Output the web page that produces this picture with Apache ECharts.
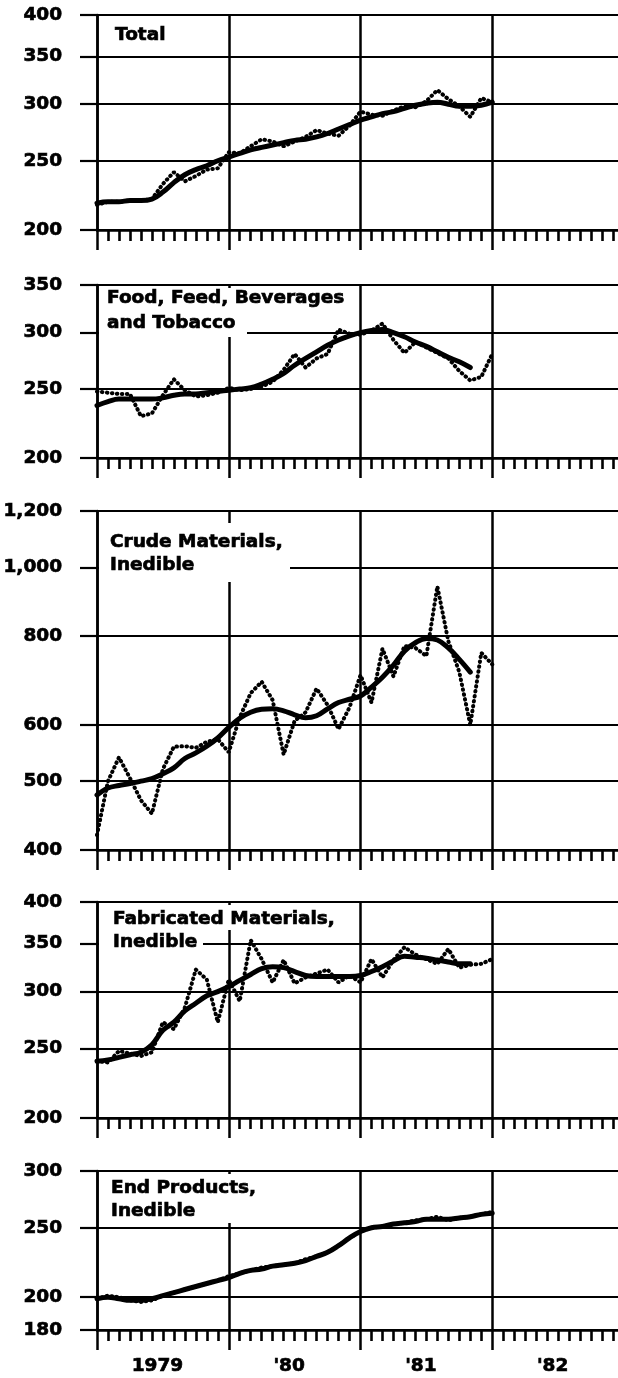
<!DOCTYPE html>
<html>
<head>
    <meta charset="utf-8" />
    <script src="https://cdn.jsdelivr.net/npm/echarts@6/dist/echarts.min.js"></script>
    <style>
        html, body { margin: 0; padding: 0; background: #fff; }
        #chart { width: 618px; height: 1378px; }
    </style>
</head>
<body>
<div id="chart"></div>
<script type="text/javascript">
    // values are monthly, index 0 = Jan 1979
    var yearLabels = ['1979', "'80", "'81", "'82"];
    var yearLabelPos = [5.5, 17.5, 29.5, 41.5];

    var titles = [
        ['Total'],
        ['Food, Feed, Beverages', 'and Tobacco'],
        ['Crude Materials,', 'Inedible'],
        ['Fabricated Materials,', 'Inedible'],
        ['End Products,', 'Inedible']
    ];

    var totalTicks = [200, 250, 300, 350, 400];
    var foodTicks = [200, 250, 300, 350];
    var crudeTicks = [400, 500, 600, 800, 1000, 1200];
    var fabTicks = [200, 250, 300, 350, 400];
    var endTicks = [180, 200, 250, 300];

    var totalMonthly = [217, 219, 219, 220, 220, 221, 232, 241, 234, 238, 243, 244, 257, 256, 262, 268, 266, 262, 266, 270, 276, 273, 271, 280, 293, 290, 289, 294, 298, 297, 303, 314, 305, 298, 288, 306, 302];
    var totalTrend = [218, 219, 219, 220, 220, 221, 226, 233, 239, 243, 246, 250, 253, 256, 259, 261, 263, 265, 267, 268, 270, 273, 277, 281, 285, 288, 291, 293, 296, 299, 301, 302, 300, 298, 298, 299, 302];

    var foodMonthly = [248, 247, 246, 246, 229, 231, 245, 258, 249, 244, 245, 247, 251, 249, 250, 252, 256, 266, 280, 268, 276, 280, 303, 299, 298, 302, 309, 293, 281, 291, 286, 281, 276, 265, 257, 260, 280];
    var foodTrend = [237, 240, 242, 242, 242, 242, 243, 245, 246, 246, 247, 248, 249, 250, 251, 254, 258, 263, 270, 276, 282, 288, 293, 297, 300, 302, 303, 300, 296, 291, 287, 282, 277, 273, 268];

    var crudeMonthly = [420, 500, 540, 505, 470, 450, 520, 559, 560, 557, 568, 573, 549, 615, 665, 690, 650, 545, 608, 625, 675, 640, 592, 635, 705, 645, 768, 702, 775, 770, 750, 940, 787, 712, 600, 758, 730];
    var crudeTrend = [478, 489, 493, 496, 500, 504, 512, 522, 538, 548, 560, 575, 595, 613, 625, 631, 632, 628, 620, 614, 618, 632, 645, 652, 659, 678, 700, 728, 762, 783, 794, 790, 770, 742, 712];

    var fabMonthly = [240, 239, 248, 246, 244, 247, 272, 266, 285, 322, 312, 272, 312, 291, 354, 333, 309, 332, 308, 314, 318, 322, 309, 316, 309, 333, 314, 332, 346, 338, 333, 328, 344, 324, 327, 328, 333];
    var fabTrend = [240, 241, 243, 245, 247, 253, 265, 272, 282, 289, 296, 300, 305, 311, 317, 323, 325, 324, 320, 316, 315, 315, 315, 315, 316, 320, 325, 331, 336, 335, 334, 332, 330, 328, 328];

    var endMonthly = [199, 201, 200, 198, 197, 198, 201, 203, 205, 207, 209, 211, 214, 216, 218, 220, 221, 222, 223, 226, 228, 231, 236, 242, 247, 250, 251, 253, 254, 256, 257, 259, 256, 258, 259, 261, 263];
    var endTrend = [199, 200, 199, 198, 198, 199, 201, 203, 205, 207, 209, 211, 213, 216, 218, 219, 221, 222, 223, 225, 228, 231, 236, 242, 247, 250, 251, 253, 254, 255, 257, 257, 257, 258, 259, 261, 262];

    var FONT = '"DejaVu Sans", "Liberation Sans", sans-serif';

    // layout of the five panels (pixels)
    var panels = [
        { top: 15, height: 215, ticks: totalTicks, monthly: totalMonthly, trend: totalTrend,
          text: [[115, 35]], boxes: [] },
        { top: 285, height: 173, ticks: foodTicks, monthly: foodMonthly, trend: foodTrend,
          text: [[107, 298], [107, 323]], boxes: [[99, 288, 251, 24], [99, 312, 148, 25]] },
        { top: 511, height: 339, ticks: crudeTicks, monthly: crudeMonthly, trend: crudeTrend,
          text: [[110, 542], [110, 565]], boxes: [[99, 523, 191, 59]] },
        { top: 902, height: 216, ticks: fabTicks, monthly: fabMonthly, trend: fabTrend,
          text: [[113, 919], [113, 942]], boxes: [[99, 905, 234, 25], [99, 930, 104, 23]] },
        { top: 1171, height: 159, ticks: endTicks, monthly: endMonthly, trend: endTrend,
          text: [[111, 1188], [111, 1211]], boxes: [[99, 1174, 164, 49]] }
    ];

    function pairs(vals) {
        return vals.map(function (v, i) { return [i, v]; });
    }

    function fmtNum(v) {
        v = Math.round(v);
        if (v >= 1000) {
            var r = String(v % 1000);
            while (r.length < 3) r = '0' + r;
            return Math.floor(v / 1000) + ',' + r;
        }
        return String(v);
    }

    var black = '#000';
    var labelFont = { fontSize: 18.5, fontWeight: 'bold', color: black, fontFamily: FONT,
                      textBorderColor: black, textBorderWidth: 0.7 };
    var grids = [], xAxes = [], yAxes = [], series = [], graphics = [];

    panels.forEach(function (p, i) {
        grids.push({ left: 97, right: -6, top: p.top, height: p.height,
                     containLabel: false, outerBoundsMode: 'none' });
        xAxes.push({
            type: 'value', gridIndex: i, min: 0, max: 48, interval: 12,
            axisLine: { show: true, onZero: false, lineStyle: { color: black, width: 2.5 } },
            axisTick: { show: true, inside: false, length: 20, lineStyle: { color: black, width: 2.5 } },
            minorTick: { show: true, splitNumber: 12, length: 11, lineStyle: { color: black, width: 2.6 } },
            splitLine: { show: true, lineStyle: { color: black, width: 2.5 } },
            axisLabel: echarts.util.extend({
                show: i === panels.length - 1,
                customValues: yearLabelPos,
                formatter: function (v) { return yearLabels[Math.floor(v / 12)]; },
                margin: 27
            }, labelFont)
        });
        yAxes.push({
            type: 'log', gridIndex: i,
            min: p.ticks[0], max: p.ticks[p.ticks.length - 1],
            axisLine: { show: true, lineStyle: { color: black, width: 2.5 } },
            axisTick: { show: true, inside: false, length: 17, customValues: p.ticks,
                        lineStyle: { color: black, width: 2.2 } },
            axisLabel: echarts.util.extend({ customValues: p.ticks, formatter: fmtNum, margin: 35 }, labelFont),
            splitLine: { show: true, lineStyle: { color: black, width: 2.2 } },
            minorTick: { show: false },
            minorSplitLine: { show: false }
        });
        series.push({
            type: 'line', xAxisIndex: i, yAxisIndex: i,
            data: pairs(p.monthly), symbol: 'none', z: 3,
            lineStyle: { color: black, width: 4, type: [0.5, 4.5], cap: 'round' }
        });
        series.push({
            type: 'line', xAxisIndex: i, yAxisIndex: i,
            data: pairs(p.trend), symbol: 'none', smooth: 0.4, z: 4,
            lineStyle: { color: black, width: 5, cap: 'round', join: 'round' }
        });
        p.boxes.forEach(function (b) {
            graphics.push({ type: 'rect', z: 1, silent: true,
                            shape: { x: b[0], y: b[1], width: b[2], height: b[3] },
                            style: { fill: '#fff' } });
        });
        titles[i].forEach(function (line, k) {
            graphics.push({ type: 'text', z: 5, silent: true,
                            x: p.text[k][0], y: p.text[k][1],
                            style: { text: line, fill: black, font: 'bold 18.5px ' + FONT,
                                     stroke: black, lineWidth: 0.7,
                                     textAlign: 'left', textVerticalAlign: 'middle' } });
        });
    });

    var myChart = echarts.init(document.getElementById('chart'));
    myChart.setOption({
        animation: false,
        backgroundColor: '#fff',
        grid: grids,
        xAxis: xAxes,
        yAxis: yAxes,
        series: series,
        graphic: { elements: graphics }
    });
</script>
</body>
</html>
